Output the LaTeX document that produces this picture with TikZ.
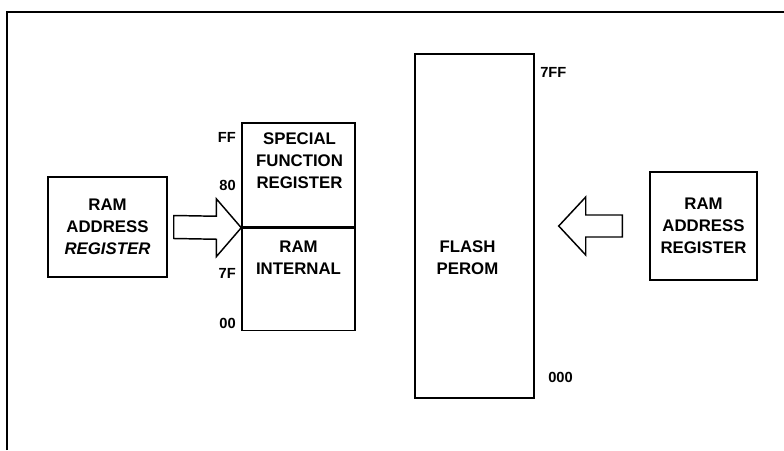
\documentclass[tikz,border=0pt]{standalone}
\usepackage{fontspec}
\setmainfont{Liberation Sans}
\usetikzlibrary{positioning,calc}

\tikzset{
  membox/.style={draw, line width=1.1pt, inner sep=0pt, align=center},
  boxtext/.style={align=center, inner sep=0pt},
  addr/.style={inner sep=0pt, font=\bfseries\fontsize{11}{12}\selectfont},
  blockarrow/.style={draw, fill=white, line width=1.1pt, line join=miter},
  frameline/.style={line width=1.5pt}
}

\begin{document}
\begin{tikzpicture}[x=0.75pt, y=-0.75pt, font=\bfseries\fontsize{12.6}{16.5}\selectfont]
  \useasboundingbox (0,0) rectangle (784,450);

  % outer frame (only top and left edges visible)
  \draw[frameline] (7,450) -- (7,12) -- (784,12);

  % address registers
  \node[membox, minimum width=89.25pt, minimum height=75pt] (ramL) at (107.5,227)
    {RAM\\ADDRESS\\\textit{REGISTER}};
  \node[membox, minimum width=80.25pt, minimum height=81pt] (ramR) at (703.5,226)
    {RAM\\ADDRESS\\REGISTER};

  % internal data memory
  \node[membox, minimum width=84.75pt, minimum height=78pt] (sfr) at (298.5,175) {};
  \node[membox, minimum width=84.75pt, minimum height=76.5pt, below=0pt of sfr] (rami) {};
  \node[boxtext] (sfrtxt) at ($(sfr.center)+(1,-14)$) {SPECIAL\\FUNCTION\\REGISTER};
  \node[boxtext] (ramitxt) at ($(rami.center)+(0,-22)$) {RAM\\INTERNAL};

  % internal addresses
  \node[addr, anchor=east] (aFF) at (236,137) {FF};
  \node[addr, anchor=east] (a80) at (236,185) {80};
  \node[addr, anchor=east] (a7F) at (236,273) {7F};
  \node[addr, anchor=east] (a00) at (236,323) {00};

  % program memory
  \node[membox, minimum width=89.25pt, minimum height=258pt] (flash) at (474.5,226) {};
  \node[boxtext] (flashtxt) at ($(flash.center)+(-7,32)$) {FLASH\\PEROM};
  \node[addr, anchor=west] (a7FF) at (540,72) {7FF};
  \node[addr, anchor=west] (a000) at (548,377) {000};

  % block arrows
  \draw[blockarrow] (sfr.south west)
    -- ++(-25,-29) -- ++(0,17.5)
    -- ($(ramL.east)+(6,-11.5)$) -- ($(ramL.east)+(6,11.5)$)
    -- ($(sfr.south west)+(-25,11.5)$) -- ++(0,17.5) -- cycle;

  \coordinate (tipR) at ($(flash.east)+(24,0)$);
  \draw[blockarrow] (tipR)
    -- ++(27,-29) -- ++(0,18)
    -- ($(ramR.west)+(-27,-11)$) -- ($(ramR.west)+(-27,11)$)
    -- ($(tipR)+(27,11)$) -- ++(0,18) -- cycle;
\end{tikzpicture}
\end{document}
